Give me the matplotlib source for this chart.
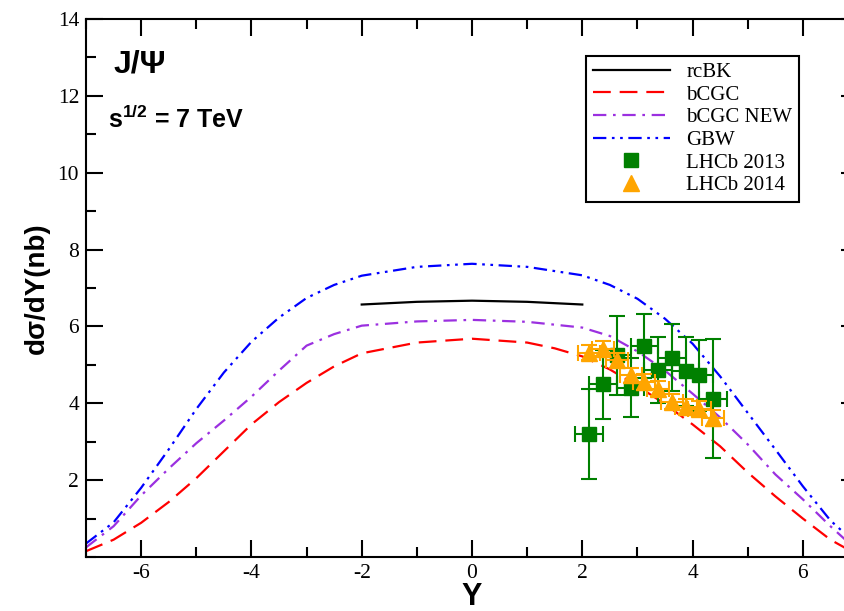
import matplotlib
matplotlib.use("Agg")
import matplotlib.pyplot as plt
from matplotlib.lines import Line2D
from matplotlib.ticker import MultipleLocator

# ---------------- data ----------------
# GBW (blue)
y_gbw = [-7, -6.5, -6, -5.5, -5, -4.5, -4, -3.5, -3, -2.5, -2, -1, 0,
         1, 2, 2.5, 3, 3.5, 4, 4.5, 5, 5.5, 6, 6.5, 7]
s_gbw = [0.35, 0.9, 1.8, 2.8, 3.85, 4.8, 5.6, 6.23, 6.74, 7.08, 7.32, 7.55, 7.63,
         7.55, 7.33, 7.08, 6.72, 6.2, 5.55, 4.7, 3.75, 2.8, 1.84, 0.95, 0.3]

# bCGC NEW (purple)
y_new = [-7, -6.5, -6, -5.5, -5, -4.5, -4, -3.5, -3, -2.5, -2, -1, 0,
         1, 2, 2.5, 3, 3.5, 4, 4.5, 5, 5.5, 6, 6.5, 7]
s_new = [0.25, 0.8, 1.6, 2.3, 2.96, 3.55, 4.17, 4.85, 5.5, 5.8, 6.02, 6.13, 6.17,
         6.12, 5.97, 5.75, 5.35, 4.85, 4.25, 3.63, 2.93, 2.15, 1.5, 0.8, 0.15]

# bCGC (red)
y_bcgc = [-7, -6.5, -6, -5.5, -5, -4.5, -4, -3.5, -3, -2.5, -2, -1, 0,
          1, 1.5, 2, 2.5, 3, 3.5, 4, 4.5, 5, 5.5, 6, 6.5, 7]
s_bcgc = [0.15, 0.45, 0.89, 1.43, 2.05, 2.75, 3.45, 4.03, 4.53, 4.96, 5.3, 5.58, 5.68,
          5.58, 5.43, 5.22, 4.88, 4.45, 3.98, 3.45, 2.88, 2.2, 1.58, 1.0, 0.45, 0.05]

# rcBK (black)
y_rcbk = [-2, -1, 0, 1, 2]
s_rcbk = [6.57, 6.64, 6.67, 6.64, 6.57]

# LHCb 2013 (green squares)
y_13 = [2.125, 2.375, 2.625, 2.875, 3.125, 3.375, 3.625, 3.875, 4.125, 4.375]
s_13 = [3.19, 4.49, 5.25, 4.41, 5.5, 4.86, 5.19, 4.83, 4.73, 4.12]
e_13 = [1.17, 0.9, 1.03, 0.78, 0.83, 0.86, 0.88, 0.89, 0.92, 1.55]
xe_13 = 0.25

# LHCb 2014 (orange triangles)
y_14 = [2.125, 2.375, 2.625, 2.875, 3.125, 3.375, 3.625, 3.875, 4.125, 4.375]
s_14 = [5.32, 5.42, 5.12, 4.73, 4.55, 4.38, 4.04, 3.91, 3.86, 3.62]
e_14 = 0.2
xe_14 = 0.2

labels = ['rcBK', 'bCGC', 'bCGC NEW', 'GBW', 'LHCb 2013', 'LHCb 2014']

# ---------------- plot ----------------
plt.rcParams['axes.unicode_minus'] = False
plt.rcParams['mathtext.fontset'] = 'custom'
plt.rcParams['mathtext.rm'] = 'Liberation Sans'
plt.rcParams['mathtext.bf'] = 'Liberation Sans:bold'

fig = plt.figure(figsize=(8.44, 6.11), dpi=100)
ax = fig.add_axes([0.1019, 0.0884, 0.9147, 0.8805])

lw = 1.6
ax.plot(y_gbw, s_gbw, color='#0000ff', lw=lw, dashes=(6, 2.5, 1.2, 2.5, 1.2, 2.5))
ax.plot(y_new, s_new, color='#9b30e0', lw=lw, dashes=(6, 3, 1.2, 3))
ax.plot(y_bcgc, s_bcgc, color='#ff0000', lw=lw, dashes=(8, 4))
ax.plot(y_rcbk, s_rcbk, color='black', lw=lw)

ax.errorbar(y_13, s_13, yerr=e_13, xerr=xe_13, fmt='s', color='#008000',
            ms=10, elinewidth=1.5, capsize=6, capthick=1.5, zorder=4)
ax.errorbar(y_14, s_14, yerr=e_14, xerr=xe_14, fmt='^', color='#ffa500',
            ms=11, elinewidth=1.5, capsize=6, capthick=1.5, zorder=5)

ax.set_xlim(-7, 7)
ax.set_ylim(0, 14)
ax.xaxis.set_major_locator(MultipleLocator(2))
ax.xaxis.set_minor_locator(MultipleLocator(1))
ax.yaxis.set_minor_locator(MultipleLocator(1))
ax.set_yticks([2, 4, 6, 8, 10, 12, 14])
ax.tick_params(which='both', direction='in', top=True, right=True, width=1.5)
ax.tick_params(which='major', length=12, pad=5)
ax.tick_params(which='minor', length=7)
for lab in ax.get_xticklabels() + ax.get_yticklabels():
    lab.set_fontfamily('Liberation Serif')
    lab.set_fontsize(15.5)
for sp in ax.spines.values():
    sp.set_linewidth(1.5)

ax.set_ylabel('dσ/dY(nb)', fontsize=20, fontweight='bold', family='Liberation Sans')
ax.yaxis.set_label_coords(-0.047, 0.5)
ax.set_xlabel('Y', fontsize=22, fontweight='bold', family='Liberation Sans')
ax.xaxis.set_label_coords(0.5, -0.047)

ax.text(0.035, 0.901, 'J/Ψ', transform=ax.transAxes, fontsize=23,
        fontweight='bold', family='Liberation Sans', va='baseline')
ax.text(0.0285, 0.797, r'$\mathbf{s^{1/2}}$ = 7 TeV', transform=ax.transAxes,
        fontsize=18, fontweight='bold', family='Liberation Sans', va='baseline')

handles = [
    Line2D([0], [0], color='black', lw=lw),
    Line2D([0], [0], color='#ff0000', lw=lw, dashes=(8, 4)),
    Line2D([0], [0], color='#9b30e0', lw=lw, dashes=(6, 3, 1.2, 3)),
    Line2D([0], [0], color='#0000ff', lw=lw, dashes=(6, 2.5, 1.2, 2.5, 1.2, 2.5)),
    Line2D([0], [0], color='#008000', marker='s', ms=10, ls='none'),
    Line2D([0], [0], color='#ffa500', marker='^', ms=11, ls='none'),
]
leg = ax.legend(handles, labels, loc='upper left', bbox_to_anchor=(0.648, 0.931),
                borderaxespad=0, fancybox=False, edgecolor='black', framealpha=1,
                prop={'family': 'Liberation Serif', 'size': 15},
                handlelength=3.7, handletextpad=0.8, labelspacing=0.15, borderpad=0.3)
leg.get_frame().set_linewidth(1.5)

fig.savefig('out.png', dpi=100)
